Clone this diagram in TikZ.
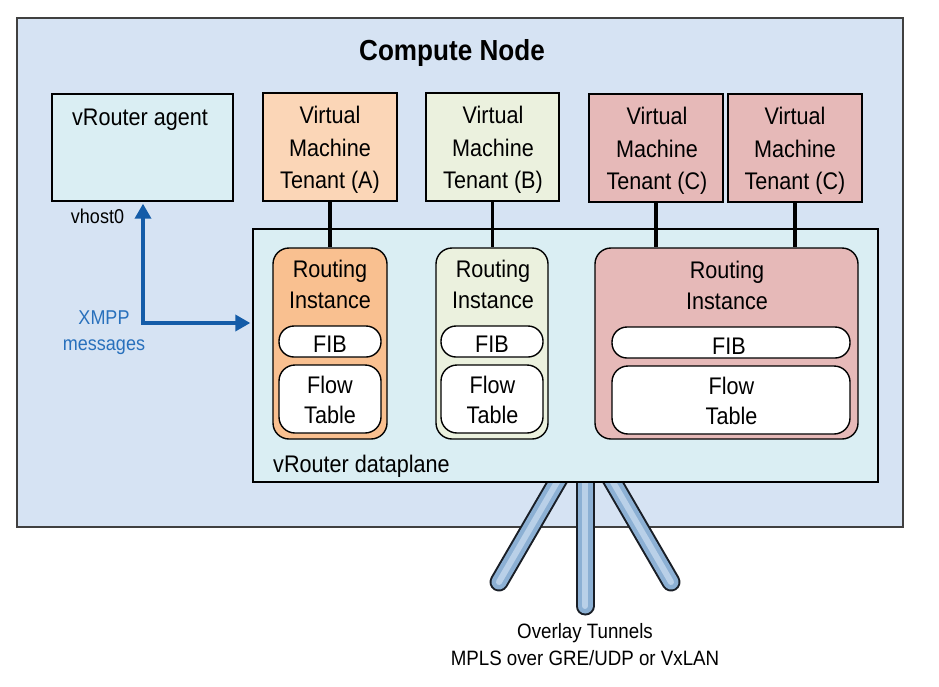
\documentclass[tikz,border=0pt]{standalone}
\usepackage{fontspec}
\setmainfont{Liberation Sans}[FakeStretch=0.9]
\usetikzlibrary{arrows.meta}
\definecolor{cnfill}{RGB}{214,227,243}
\definecolor{cyanfill}{RGB}{218,238,243}
\definecolor{vmAfill}{RGB}{251,214,183}
\definecolor{riAfill}{RGB}{249,192,144}
\definecolor{vmBfill}{RGB}{235,241,222}
\definecolor{vmCfill}{RGB}{230,185,184}
\definecolor{arrowblue}{RGB}{20,92,168}
\definecolor{xmppblue}{RGB}{40,112,188}
\definecolor{tubeout}{RGB}{25,30,38}
\definecolor{tubemid}{RGB}{140,176,212}
\definecolor{tubelight}{RGB}{185,208,232}
\begin{document}
\begin{tikzpicture}[x=1pt,y=-1pt,
  box/.style={draw=black,line width=1.4pt,inner sep=0pt,anchor=center},
  rbox/.style={box,rounded corners=#1},
  txt/.style={inner sep=0pt,align=center,font=\fontsize{24}{32.5}\selectfont},
  ritxt/.style={inner sep=0pt,align=center,font=\fontsize{24}{31}\selectfont},
  flowtxt/.style={inner sep=0pt,align=center,font=\fontsize{24}{30.7}\selectfont},
  smalltxt/.style={inner sep=0pt,align=center,font=\fontsize{20}{25.7}\selectfont},
  conn/.style={draw=black,line width=3.2pt},
  tube/.style={draw=tubeout,line width=19pt,line cap=round,
    postaction={draw=tubemid,line width=15pt,line cap=round},
    postaction={draw=tubelight,line width=6pt,line cap=round}},
  xmpparrow/.style={draw=arrowblue,line width=3.6pt,
    {Triangle[length=15pt,width=16pt]}-{Triangle[length=15pt,width=16pt]}}
]
\useasboundingbox (0,0) rectangle (939,686);
\fill[white] (0,0) rectangle (939,686);

% compute node
\node[box,draw=black!75,line width=1.5pt,fill=cnfill,minimum width=886pt,minimum height=509pt] (cn) at (460,272.5) {};
\node[inner sep=0pt,anchor=base,font=\fontsize{29}{32}\selectfont\bfseries] (title) at (452,60) {Compute Node};

% tunnels
\coordinate (tMa) at (585,470); \coordinate (tMb) at (585,606);
\coordinate (tLa) at (564,470); \coordinate (tLb) at (499,582);
\coordinate (tRa) at (606,470); \coordinate (tRb) at (671,582);
\draw[tube] (tLa) -- (tLb);
\draw[tube] (tRa) -- (tRb);
\draw[tube] (tMa) -- (tMb);

% dataplane
\node[box,fill=cyanfill,minimum width=625pt,minimum height=253pt] (dp) at (565.5,355.5) {};
\node[txt,anchor=base west] (dptxt) at (273,472) {vRouter dataplane};

% agent
\node[box,fill=cyanfill,minimum width=181pt,minimum height=107pt] (agent) at (142.5,147.5) {};
\node[txt,anchor=base] (agenttxt) at (140,125) {vRouter agent};

% virtual machines
\node[box,fill=vmAfill,minimum width=134pt,minimum height=108pt] (vmA) at (330,147) {};
\node[box,fill=vmBfill,minimum width=133pt,minimum height=108pt] (vmB) at (492.5,147) {};
\node[box,fill=vmCfill,minimum width=134pt,minimum height=108pt] (vmC1) at (656,148) {};
\node[box,fill=vmCfill,minimum width=134pt,minimum height=108pt] (vmC2) at (795,148) {};
\node[txt] (vmAtxt) at (330,150) {Virtual\\Machine\\Tenant (A)};
\node[txt] (vmBtxt) at (493,150) {Virtual\\Machine\\Tenant (B)};
\node[txt] (vmC1txt) at (657,151) {Virtual\\Machine\\Tenant (C)};
\node[txt] (vmC2txt) at (795,151) {Virtual\\Machine\\Tenant (C)};

% routing instances
\node[rbox=16pt,fill=riAfill,minimum width=114pt,minimum height=191pt] (riA) at (330,343.5) {};
\node[rbox=16pt,fill=vmBfill,minimum width=112pt,minimum height=191pt] (riB) at (492,343.5) {};
\node[rbox=16pt,fill=vmCfill,minimum width=263pt,minimum height=191pt] (riC) at (726.5,343.5) {};
\node[ritxt] (riAtxt) at (330,284.2) {Routing\\Instance};
\node[ritxt] (riBtxt) at (493,284.2) {Routing\\Instance};
\node[ritxt] (riCtxt) at (727,285.5) {Routing\\Instance};

% FIBs
\node[rbox=15pt,fill=white,minimum width=102pt,minimum height=31pt] (fibA) at (330,341.5) {};
\node[rbox=15pt,fill=white,minimum width=102pt,minimum height=31pt] (fibB) at (492,341.5) {};
\node[rbox=15pt,fill=white,minimum width=238pt,minimum height=31pt] (fibC) at (731,342.5) {};
\node[txt,anchor=base] (fibAtxt) at (330,352.5) {FIB};
\node[txt,anchor=base] (fibBtxt) at (492,352.5) {FIB};
\node[txt,anchor=base] (fibCtxt) at (729,354) {FIB};

% flow tables
\node[rbox=16pt,fill=white,minimum width=102pt,minimum height=68pt] (flowA) at (330,399) {};
\node[rbox=16pt,fill=white,minimum width=102pt,minimum height=68pt] (flowB) at (492,399) {};
\node[rbox=16pt,fill=white,minimum width=238pt,minimum height=68pt] (flowC) at (731,400) {};
\node[flowtxt] (flowAtxt) at (330,400) {Flow\\Table};
\node[flowtxt] (flowBtxt) at (492.5,400) {Flow\\Table};
\node[flowtxt] (flowCtxt) at (731.5,401) {Flow\\Table};

% connectors
\draw[conn] (vmA.south) -- (riA.north);
\draw[conn] (vmB.south) -- (vmB.south |- riB.north);
\draw[conn] (vmC1.south) -- (vmC1.south |- riC.north);
\draw[conn] (vmC2.south) -- (vmC2.south |- riC.north);

% XMPP arrow
\coordinate (xc) at (143,323);
\draw[xmpparrow,shorten <=2pt,shorten >=2pt] (agent.south -| xc) -- (xc) -- (dp.west |- xc);
\node[smalltxt,anchor=base] (vhost) at (97.5,223.3) {vhost0};
\node[smalltxt,text=xmppblue] (xmpp) at (104,332.8) {XMPP\\messages};

% overlay text
\node[inner sep=0pt,align=center,font=\fontsize{20.8}{26.3}\selectfont] (overlay) at (585,644.6) {Overlay Tunnels\\MPLS over GRE/UDP or VxLAN};
\end{tikzpicture}
\end{document}
